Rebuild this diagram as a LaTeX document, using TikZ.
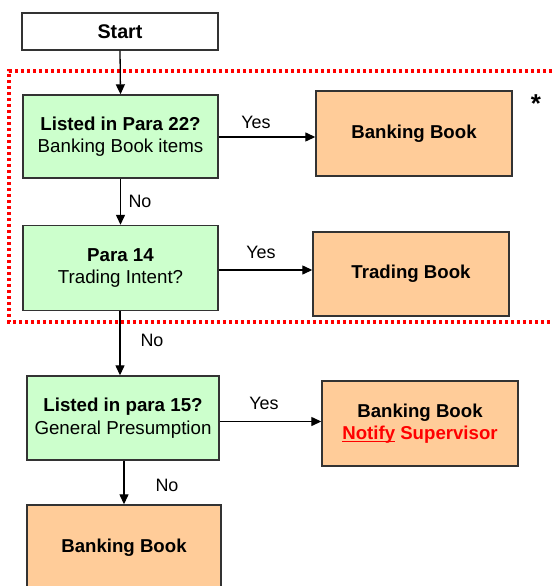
\documentclass[tikz,border=0pt]{standalone}
\usepackage{fontspec}
\setmainfont{Liberation Sans}
\usetikzlibrary{arrows.meta}
\definecolor{boxgreen}{HTML}{CCFFCC}
\definecolor{boxorange}{HTML}{FFCC99}
\definecolor{edgegray}{HTML}{333333}
\definecolor{dotred}{HTML}{FF0000}
\begin{document}
\begin{tikzpicture}[x=1bp,y=-1bp,
  box/.style={draw=edgegray, line width=1.4bp, minimum width=196bp, minimum height=85bp,
    inner sep=0pt, align=center, text=black, font=\fontsize{18.8}{22.5}\selectfont},
  greenbox/.style={box, fill=boxgreen},
  orangebox/.style={box, fill=boxorange, font=\fontsize{18.7}{22.5}\selectfont\bfseries},
  conn/.style={draw=black, line width=1.3bp, -{Triangle[length=10bp,width=9bp]}},
  lbl/.style={font=\fontsize{18}{20}\selectfont, text=black, inner sep=0pt},
  region/.style={draw=dotred, line width=3.5bp, dash pattern=on 3bp off 3bp}]
\useasboundingbox (0,0) rectangle (553,586);
\clip (0,0) rectangle (553,586);

% dotted region
\draw[region] (570,71) -- (9,71) -- (9,322) -- (570,322);

% nodes
\node[box, fill=white, minimum height=37bp, font=\fontsize{19.8}{22}\selectfont\bfseries] (start) at (120,31.5) {Start};
\node[greenbox, minimum width=195bp, minimum height=83bp] (b1) at (120.5,136.5) {\textbf{Listed in Para 22?}\\Banking Book items};
\node[orangebox] (bb1) at (414,133.5) {Banking Book};
\node[greenbox, minimum width=195bp] (b2) at (120.5,268) {\textbf{Para 14}\\Trading Intent?};
\node[orangebox, minimum height=84bp] (tb) at (411,274) {Trading Book};
\node[greenbox, minimum width=192bp, minimum height=84bp] (b3) at (123,418) {\textbf{Listed in para 15?}\\General Presumption};
\node[orangebox] (nb) at (420,423.5) {Banking Book\\{\color{dotred}\underline{\smash{Notify}} Supervisor}};
\node[orangebox, minimum width=194bp, minimum height=86bp] (bb4) at (124,548) {Banking Book};
\node[font=\fontsize{26}{26}\selectfont\bfseries, inner sep=0pt] (star) at (536,104) {*};

% connectors
\draw[conn] (start.south) -- (b1.north);
\draw[conn] ([yshift=-0.5bp]b1.east) -- ([yshift=-0.5bp]b1.east -| bb1.west);
\draw[conn] (b1.south) -- (b1.south |- b2.north);
\draw[conn] ([yshift=-2bp]b2.east) -- ([yshift=-2bp]b2.east -| tb.west);
\draw[conn] ([xshift=-0.5bp]b2.south) -- ([xshift=-0.5bp]b2.south |- b3.north);
\draw[conn] ([yshift=-3.5bp]b3.east) -- ([yshift=-3.5bp]b3.east -| nb.west);
\draw[conn] ([xshift=1bp]b3.south) -- ([xshift=1bp]b3.south |- bb4.north);

% labels
\node[lbl] (y1) at (256,122) {Yes};
\node[lbl] (n1) at (140,201) {No};
\node[lbl] (y2) at (261,252) {Yes};
\node[lbl] (n2) at (152,340) {No};
\node[lbl] (y3) at (264,403) {Yes};
\node[lbl] (n3) at (167,485) {No};
\end{tikzpicture}
\end{document}
